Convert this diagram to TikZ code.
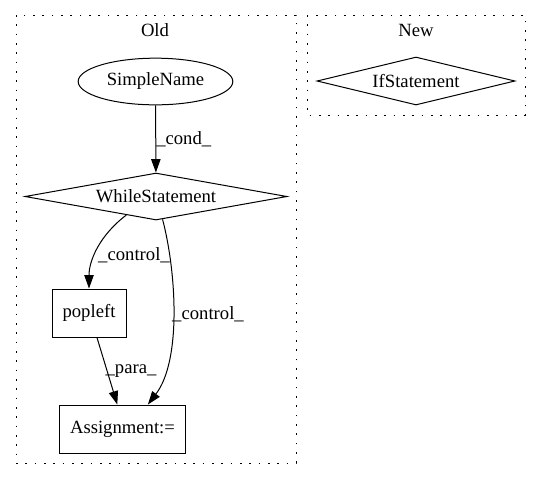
\documentclass[tikz,border=0pt]{standalone}
\usepackage{fontspec}
\setmainfont{Liberation Serif}
\usetikzlibrary{shapes.geometric,arrows.meta}
\begin{document}
\begin{tikzpicture}[x=0.75pt,y=-0.75pt,
  every node/.style={font=\fontsize{14pt}{16pt}\selectfont},
  cluster/.style={draw, line width=0.75pt, dash pattern=on 1.2pt off 5.8pt},
  graphnode/.style={draw, line width=0.75pt, inner sep=0pt},
  ellnode/.style={graphnode, ellipse, minimum width=116pt, minimum height=35pt},
  dianode/.style={graphnode, diamond},
  boxnode/.style={graphnode, rectangle, minimum height=36pt},
  edge/.style={draw, line width=0.75pt, -{Triangle[length=10pt,width=7pt]}},
  elabel/.style={inner sep=0pt}
]
\useasboundingbox (0,0) rectangle (541,480);
% clusters
\draw[cluster] (16,15) rectangle (296,463);
\node (oldlbl) at (155,30) {Old};
\draw[cluster] (307,15) rectangle (525,115);
\node (newlbl) at (416,30) {New};
% nodes
\node[ellnode] (sn) at (155.5,81.5) {SimpleName};
\node[dianode, aspect=5.57, minimum width=196.5pt, minimum height=35.25pt] (ws) at (156,196.5) {WhileStatement};
\node[boxnode, minimum width=55.5pt] (pop) at (89,313) {popleft};
\node[boxnode, minimum width=94pt] (asg) at (122.5,429) {Assignment:=};
\node[dianode, aspect=4.1, minimum width=148.5pt, minimum height=36pt] (ifs) at (416,81) {IfStatement};
% edges
\draw[edge] (sn) -- node[elabel, right] {\_cond\_} (ws);
\draw[edge] (ws.212) .. controls (100,235) and (89,260) .. (pop.north);
\node[elabel] (l1) at (134,255) {\_control\_};
\draw[edge] (ws.286) .. controls (176,270) and (182,360) .. (asg.44);
\node[elabel] (l2) at (208,314) {\_control\_};
\draw[edge] (pop.288) -- (asg.102);
\node[elabel] (l3) at (131,371) {\_para\_};
\end{tikzpicture}
\end{document}
